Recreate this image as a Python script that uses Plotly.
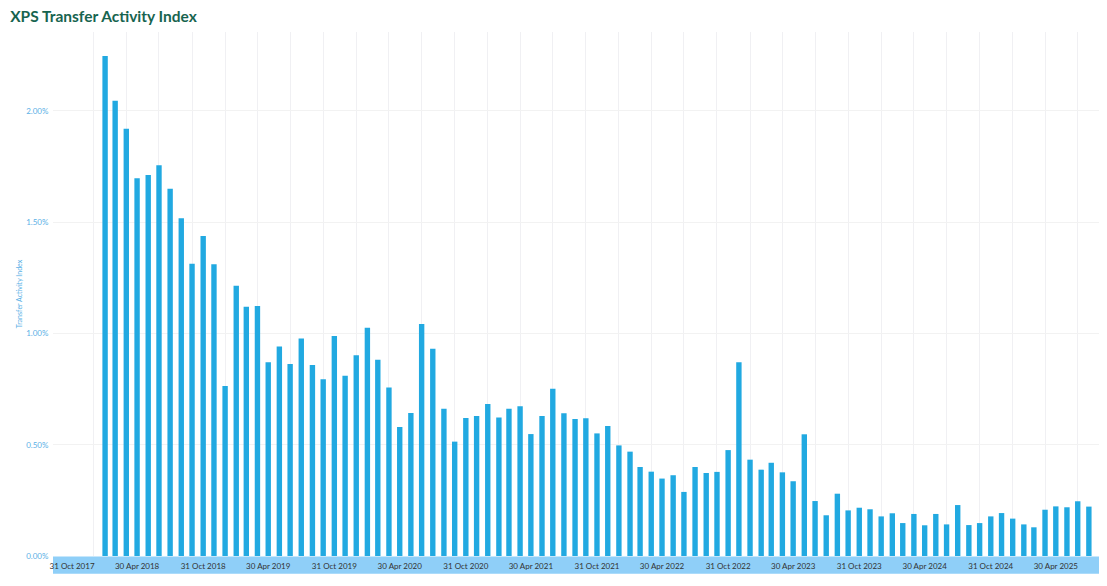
import pandas as pd
import plotly.graph_objects as go

# monthly index, month-end dates Jan 2018 .. Jul 2025
months = pd.date_range("2018-01-31", "2025-07-31", freq="ME")

index_pct = [
    2.247, 2.046, 1.920, 1.698, 1.712, 1.756, 1.651, 1.518, 1.314, 1.438, 1.311, 0.764,
    1.215, 1.120, 1.124, 0.871, 0.941, 0.863, 0.977, 0.858, 0.794, 0.989, 0.810, 0.902,
    1.026, 0.882, 0.757, 0.580, 0.643, 1.043, 0.932, 0.662, 0.514, 0.620, 0.629, 0.683,
    0.622, 0.662, 0.673, 0.548, 0.629, 0.752, 0.641, 0.616, 0.619, 0.551, 0.584, 0.497,
    0.469, 0.400, 0.379, 0.348, 0.363, 0.288, 0.400, 0.373, 0.378, 0.476, 0.871, 0.433,
    0.388, 0.419, 0.376, 0.336, 0.547, 0.247, 0.183, 0.280, 0.205, 0.217, 0.210, 0.178,
    0.192, 0.148, 0.189, 0.138, 0.189, 0.142, 0.229, 0.139, 0.148, 0.178, 0.193, 0.168,
    0.142, 0.129, 0.208, 0.223, 0.219, 0.246, 0.222,
]

tick_labels = [
    "31 Oct 2017", "30 Apr 2018", "31 Oct 2018", "30 Apr 2019", "31 Oct 2019",
    "30 Apr 2020", "31 Oct 2020", "30 Apr 2021", "31 Oct 2021", "30 Apr 2022",
    "31 Oct 2022", "30 Apr 2023", "31 Oct 2023", "30 Apr 2024", "31 Oct 2024",
    "30 Apr 2025",
]
y_ticks = [0, 0.5, 1.0, 1.5, 2.0]
y_tick_labels = ["0.00%", "0.50%", "1.00%", "1.50%", "2.00%"]

tick_dates = pd.to_datetime(tick_labels, format="%d %b %Y")
grid_dates = pd.date_range("2017-10-31", "2025-07-31", freq="QE")

BAR = "#21a9e1"
BAND = "#8fcff8"
TICK_BLUE = "#5ab0e6"
DAY_MS = 86400000

fig = go.Figure(
    go.Bar(
        x=months,
        y=index_pct,
        width=15 * DAY_MS,
        marker=dict(color=BAR, line_width=0),
        hovertemplate="%{x|%d %b %Y}<br>%{y:.2f}%<extra></extra>",
    )
)

# page body has an 8px default margin, so the figure is 8px smaller each way
fig.update_layout(
    width=1099,
    height=578,
    margin=dict(l=45, r=7, t=24, b=30),
    paper_bgcolor="white",
    plot_bgcolor="white",
    showlegend=False,
    font=dict(family="Lato", size=8, color="#333333"),
    title=dict(
        text="<b>XPS Transfer Activity Index</b>",
        x=0.002, xanchor="left",
        y=0.986, yanchor="middle",
        font=dict(family="Lato", size=15.5, color="#17644f"),
    ),
    shapes=[
        dict(type="rect", xref="paper", yref="paper",
             x0=0, x1=1, y0=-0.034, y1=-0.001,
             fillcolor=BAND, line_width=0, layer="below"),
    ],
)

fig.update_xaxes(
    type="date",
    range=["2017-09-08", "2025-08-31"],
    tickvals=tick_dates,
    ticktext=tick_labels,
    tickfont=dict(size=8, color="#333333"),
    ticks="outside", ticklen=2, tickcolor="rgba(0,0,0,0)",
    showgrid=False,
    minor=dict(tickvals=grid_dates, showgrid=True, gridcolor="#f0f0f3", gridwidth=1),
    showline=False,
    zeroline=False,
)

fig.update_yaxes(
    range=[0, 2.355],
    tickvals=y_ticks,
    ticktext=y_tick_labels,
    tickfont=dict(size=8, color=TICK_BLUE),
    ticks="outside", ticklen=2, tickcolor="rgba(0,0,0,0)",
    showgrid=True, gridcolor="#f2f2f2", gridwidth=1,
    zeroline=False,
    showline=False,
    title=dict(text="Transfer Activity Index", font=dict(size=7, color=TICK_BLUE), standoff=2),
)

fig.write_html("out.html")
